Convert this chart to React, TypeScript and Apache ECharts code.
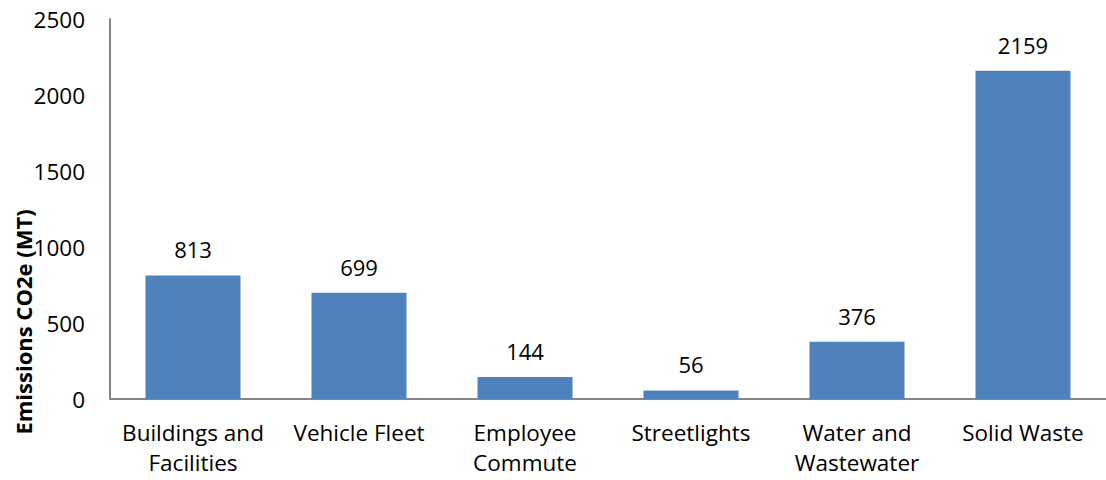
import React, { useEffect, useRef } from "react";
import * as echarts from "echarts";

const categories = [
  "Buildings and\nFacilities",
  "Vehicle Fleet",
  "Employee\nCommute",
  "Streetlights",
  "Water and\nWastewater",
  "Solid Waste",
];
const values = [813, 699, 144, 56, 376, 2159];
const yAxisTitle = "Emissions CO2e (MT)";

const FONT = "'Open Sans', 'Liberation Sans', sans-serif";

export default function App() {
  const ref = useRef<HTMLDivElement>(null);
  useEffect(() => {
    document.body.style.margin = "0";
    if (!ref.current) return;
    const chart = echarts.init(ref.current, null, { renderer: "svg" });
    chart.setOption({
      animation: false,
      grid: { left: 110, top: 19, width: 1002, height: 380, containLabel: false },
      xAxis: {
        type: "category",
        data: categories,
        axisLine: { show: true, lineStyle: { color: "#868686", width: 2 } },
        axisTick: { show: false },
        axisLabel: {
          color: "#000",
          fontSize: 22.5,
          fontFamily: FONT,
          lineHeight: 30,
          margin: 18,
          interval: 0,
        },
      },
      yAxis: {
        type: "value",
        min: 0,
        max: 2500,
        interval: 500,
        axisLine: { show: true, lineStyle: { color: "#868686", width: 2 } },
        axisTick: { show: false },
        splitLine: { show: false },
        axisLabel: {
          color: "#000",
          fontSize: 22.5,
          fontFamily: FONT,
          margin: 25,
          formatter: (v: number) => String(v),
        },
      },
      graphic: [
        {
          type: "text",
          x: 23,
          y: 322,
          rotation: Math.PI / 2,
          style: {
            text: yAxisTitle,
            font: `bold 22px ${FONT}`,
            fill: "#000",
            align: "center",
            verticalAlign: "middle",
          },
        },
      ],
      series: [
        {
          type: "bar",
          data: values,
          barWidth: 95,
          itemStyle: { color: "#4F81BD" },
          label: {
            show: true,
            position: "top",
            distance: 15,
            color: "#000",
            fontSize: 22,
            fontFamily: FONT,
          },
        },
      ],
    });
    return () => chart.dispose();
  }, []);
  return <div ref={ref} style={{ width: 1106, height: 480 }} />;
}
